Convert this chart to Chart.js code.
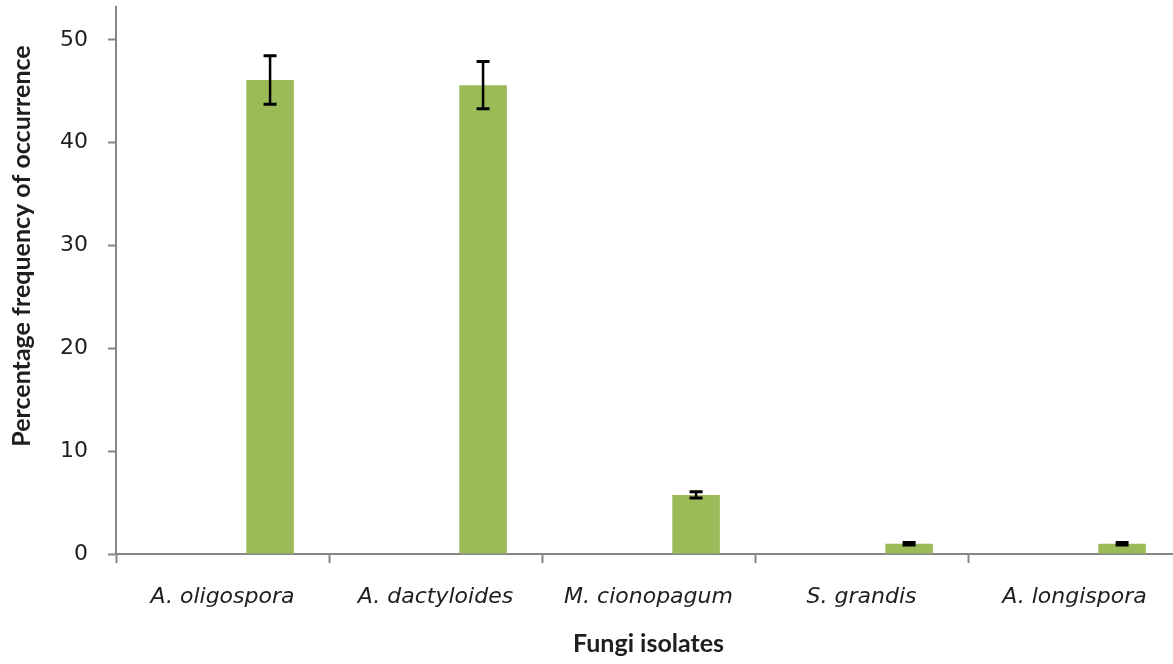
<!DOCTYPE html>
<html>
<head>
<meta charset="utf-8">
<script src="https://cdn.jsdelivr.net/npm/chart.js@4.4.1/dist/chart.umd.min.js"></script>
<style>
  html, body { margin: 0; padding: 0; background: #ffffff; overflow: hidden; }
  #wrap { position: relative; width: 1181px; height: 664px; }
</style>
</head>
<body>
<div id="wrap"><canvas id="c"></canvas></div>
<script>
const categories = ['A. oligospora', 'A. dactyloides', 'M. cionopagum', 'S. grandis', 'A. longispora'];
const frequency = [46.1, 45.6, 5.75, 1.0, 1.0];
const errors = [2.35, 2.3, 0.3, 0.12, 0.12];
const placeholderA = [null, null, null, null, null];
const placeholderB = [null, null, null, null, null];
const yTicks = [0, 10, 20, 30, 40, 50];
const yTitle = 'Percentage frequency of occurrence';
const xTitle = 'Fungi isolates';

const AXIS = '#868686';
const TEXT = '#1e1e1e';

const errorBarPlugin = {
  id: 'errorBars',
  afterDatasetsDraw(chart) {
    const meta = chart.getDatasetMeta(2);
    const yScale = chart.scales.y;
    const ctx = chart.ctx;
    ctx.save();
    ctx.strokeStyle = '#000000';
    meta.data.forEach((bar, i) => {
      const v = frequency[i], e = errors[i];
      const x = bar.x;
      const yTop = yScale.getPixelForValue(v + e);
      const yBot = yScale.getPixelForValue(v - e);
      ctx.lineWidth = 2.5;
      ctx.beginPath();
      ctx.moveTo(x, yTop);
      ctx.lineTo(x, yBot);
      ctx.stroke();
      ctx.lineWidth = 3;
      ctx.beginPath();
      ctx.moveTo(x - 6.5, yTop); ctx.lineTo(x + 6.5, yTop);
      ctx.moveTo(x - 6.5, yBot); ctx.lineTo(x + 6.5, yBot);
      ctx.stroke();
    });
    ctx.restore();
  }
};

const yTitlePlugin = {
  id: 'yTitle',
  afterDraw(chart) {
    const ctx = chart.ctx;
    ctx.save();
    ctx.translate(22, 246);
    ctx.rotate(-Math.PI / 2);
    ctx.font = 'bold 25px Lato, "Open Sans", sans-serif';
    ctx.fillStyle = TEXT;
    ctx.textAlign = 'center';
    ctx.textBaseline = 'middle';
    ctx.fillText(yTitle, 0, 0);
    ctx.restore();
  }
};

new Chart(document.getElementById('c'), {
  type: 'bar',
  data: {
    labels: categories,
    datasets: [
      { label: 'a', data: placeholderA, backgroundColor: 'rgba(0,0,0,0)' },
      { label: 'b', data: placeholderB, backgroundColor: 'rgba(0,0,0,0)' },
      { label: 'Frequency', data: frequency, backgroundColor: '#9BBB59', borderWidth: 0 }
    ]
  },
  options: {
    responsive: true,
    maintainAspectRatio: false,
    devicePixelRatio: 1,
    animation: false,
    events: [],
    layout: { padding: { top: 7, left: 0, right: 0, bottom: 0 } },
    datasets: { bar: { categoryPercentage: 0.67, barPercentage: 1.0 } },
    plugins: {
      legend: { display: false },
      tooltip: { enabled: false },
      title: { display: false }
    },
    scales: {
      x: {
        type: 'category',
        offset: true,
        grid: {
          offset: true,
          drawOnChartArea: false,
          drawTicks: true,
          tickLength: 9,
          tickWidth: 2,
          tickColor: AXIS
        },
        border: { display: true, color: AXIS, width: 2 },
        ticks: {
          padding: 21,
          color: TEXT,
          maxRotation: 0,
          autoSkip: false,
          font: { family: '"DejaVu Sans", sans-serif', size: 22, style: 'italic' }
        },
        title: {
          display: true,
          text: xTitle,
          color: TEXT,
          padding: { top: 0, bottom: 5 },
          font: { family: 'Lato, "Open Sans", sans-serif', size: 25, weight: 'bold' }
        },
        afterFit(scale) {
          scale.height = 110;
          scale.paddingLeft = 0;
          scale.paddingRight = 0;
        }
      },
      y: {
        min: 0,
        max: 53.2,
        grid: {
          drawOnChartArea: false,
          drawTicks: true,
          tickLength: 8,
          tickWidth: 2,
          tickColor: AXIS
        },
        border: { display: true, color: AXIS, width: 2 },
        ticks: {
          padding: 20,
          color: TEXT,
          font: { family: '"DejaVu Sans", sans-serif', size: 22 }
        },
        afterBuildTicks(scale) {
          scale.ticks = yTicks.map(v => ({ value: v }));
        },
        afterFit(scale) {
          scale.width = 116;
          scale.paddingTop = 0;
          scale.paddingBottom = 0;
        }
      }
    }
  },
  plugins: [errorBarPlugin, yTitlePlugin]
});
</script>
</body>
</html>
